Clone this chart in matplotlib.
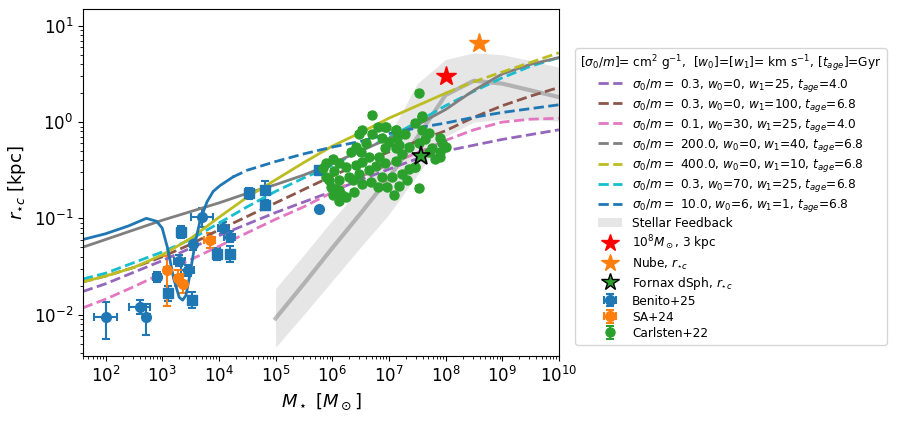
import numpy as np
import matplotlib
matplotlib.use("Agg")
import matplotlib.pyplot as plt
from matplotlib.lines import Line2D
from matplotlib.patches import Patch

# model curves, log10(M*) vs log10(r*c)
logM_grid = [1.6, 2.0, 2.5, 3.0, 3.5, 4.0, 4.5, 5.0, 5.5, 6.0, 6.5, 7.0, 7.5, 8.0, 8.5, 9.0, 9.5, 10.0]
purple_r = [-1.76, -1.68, -1.56, -1.44, -1.31, -1.18, -1.06, -0.94, -0.83, -0.72, -0.60, -0.49, -0.38, -0.30, -0.24, -0.18, -0.13, -0.08]
brown_r = [-1.66, -1.60, -1.51, -1.40, -1.27, -1.12, -0.98, -0.84, -0.70, -0.56, -0.43, -0.31, -0.20, -0.09, 0.05, 0.17, 0.27, 0.36]
pink_r = [-1.93, -1.84, -1.71, -1.57, -1.43, -1.29, -1.15, -1.01, -0.88, -0.73, -0.57, -0.44, -0.32, -0.19, -0.08, 0.0, 0.03, 0.04]
gray_r = [-1.30, -1.22, -1.12, -1.02, -0.93, -0.84, -0.74, -0.65, -0.55, -0.43, -0.30, -0.17, -0.03, 0.13, 0.33, 0.50, 0.60, 0.67]
olive_r = [-1.66, -1.60, -1.51, -1.38, -1.21, -0.99, -0.78, -0.60, -0.42, -0.25, -0.11, 0.04, 0.17, 0.30, 0.42, 0.52, 0.62, 0.72]
cyan_r = [-1.63, -1.57, -1.46, -1.35, -1.22, -1.05, -0.88, -0.72, -0.58, -0.45, -0.30, -0.16, 0.0, 0.17, 0.32, 0.46, 0.58, 0.67]

blue_logM = [1.6, 2.0, 2.4, 2.72, 2.9, 3.0, 3.1, 3.2, 3.3, 3.36, 3.42, 3.5, 3.58, 3.67, 3.79, 3.9, 4.02, 4.25,
             4.5, 5.0, 5.5, 6.0, 6.5, 7.0, 7.5, 8.0, 8.5, 9.0, 9.5, 10.0]
blue_r = [-1.22, -1.16, -1.08, -1.0, -1.03, -1.10, -1.32, -1.62, -1.82, -1.85, -1.80, -1.55, -1.26, -1.02, -0.83,
          -0.72, -0.66, -0.57, -0.50, -0.41, -0.33, -0.26, -0.20, -0.12, -0.06, -0.01, 0.05, 0.10, 0.14, 0.18]

labels = [
    r"$\sigma_0/m =$ 0.3, $w_0$=0, $w_1$=25, $t_{age}$=4.0",
    r"$\sigma_0/m =$ 0.3, $w_0$=0, $w_1$=100, $t_{age}$=6.8",
    r"$\sigma_0/m =$ 0.1, $w_0$=30, $w_1$=25, $t_{age}$=4.0",
    r"$\sigma_0/m =$ 200.0, $w_0$=0, $w_1$=40, $t_{age}$=6.8",
    r"$\sigma_0/m =$ 400.0, $w_0$=0, $w_1$=10, $t_{age}$=6.8",
    r"$\sigma_0/m =$ 0.3, $w_0$=70, $w_1$=25, $t_{age}$=6.8",
    r"$\sigma_0/m =$ 10.0, $w_0$=6, $w_1$=1, $t_{age}$=6.8",
]
colors = ["tab:purple", "tab:brown", "tab:pink", "tab:gray", "tab:olive", "tab:cyan", "tab:blue"]

# stellar feedback band
fb_logM = [5.0, 5.5, 6.0, 6.5, 7.0, 7.5, 8.0, 8.5, 9.0, 9.5, 10.0]
fb_mid = [-2.04, -1.68, -1.31, -0.95, -0.58, -0.16, 0.28, 0.43, 0.40, 0.33, 0.26]
fb_hi = [-1.73, -1.38, -1.02, -0.68, -0.15, 0.40, 0.65, 0.72, 0.70, 0.64, 0.57]
fb_lo = [-2.34, -2.00, -1.65, -1.30, -0.96, -0.55, -0.15, 0.0, 0.03, 0.03, 0.01]

# Benito+25 (log M, log r, xerr dex, yerr up, yerr down)
ben_c_logM = [2.0, 2.60, 2.72, 2.91, 3.30, 3.45, 3.54, 3.70, 4.08, 4.19, 5.77]
ben_c_logr = [-2.03, -1.92, -2.02, -1.61, -1.44, -1.54, -1.27, -0.99, -1.10, -1.19, -0.90]
ben_c_xe = [0.20, 0.18, 0.06, 0.07, 0.10, 0.12, 0.05, 0.20, 0.10, 0.10, 0.0]
ben_c_yu = [0.16, 0.07, 0.13, 0.05, 0.06, 0.06, 0.06, 0.10, 0.06, 0.06, 0.0]
ben_c_yd = [0.22, 0.07, 0.19, 0.05, 0.06, 0.06, 0.06, 0.10, 0.06, 0.06, 0.0]
ben_s_logM = [3.11, 3.34, 3.52, 3.96, 4.20, 4.54, 4.81, 4.81, 5.77]
ben_s_logr = [-1.78, -1.14, -1.85, -1.37, -1.37, -0.74, -0.71, -0.86, -0.50]
ben_s_xe = [0.05, 0.05, 0.05, 0.05, 0.05, 0.05, 0.05, 0.05, 0.0]
ben_s_ye = [0.08, 0.06, 0.08, 0.06, 0.08, 0.06, 0.10, 0.05, 0.0]

# SA+24
sa_logM = [3.08, 3.28, 3.36, 3.84]
sa_logr = [-1.54, -1.62, -1.68, -1.23]
sa_xe = [0.05, 0.05, 0.05, 0.10]
sa_yu = [0.15, 0.08, 0.10, 0.08]
sa_yd = [0.37, 0.08, 0.10, 0.08]

# Carlsten+22
carl_logM = [6.71, 7.53, 6.53, 6.71, 6.94, 7.12, 6.88, 7.00, 7.18, 6.59, 6.42, 6.50, 6.33, 6.01, 6.12, 6.24,
             6.04, 5.89, 6.12, 6.30, 6.47, 6.65, 6.77, 6.94, 7.12, 7.23, 7.35, 7.53, 7.64, 7.76, 7.59, 7.47,
             7.59, 7.70, 7.82, 7.91, 7.47, 7.53, 7.09, 6.97, 6.80, 6.68, 6.88, 7.06, 7.23, 7.35, 6.12, 6.24,
             6.12, 6.01, 5.98, 6.39, 6.94, 6.83, 7.29, 7.15, 7.12, 6.65, 6.53, 6.42, 6.47, 6.80, 6.36, 6.53,
             7.18, 7.32, 5.89, 5.83, 6.95, 7.12, 7.58, 7.70, 7.93, 8.00, 7.91, 7.47, 5.95, 6.07, 6.18, 7.91]
carl_logr = [0.07, 0.30, -0.08, -0.12, -0.05, -0.08, -0.17, -0.21, -0.24, -0.22, -0.26, -0.31, -0.31, -0.38, -0.43, -0.47,
             -0.51, -0.57, -0.60, -0.57, -0.54, -0.50, -0.46, -0.43, -0.40, -0.33, -0.26, -0.22, -0.18, -0.27, -0.08, -0.01,
             0.06, -0.31, -0.38, -0.31, -0.47, -0.68, -0.76, -0.67, -0.67, -0.62, -0.57, -0.57, -0.54, -0.49, -0.71, -0.78,
             -0.82, -0.76, -0.67, -0.73, -0.27, -0.36, -0.12, -0.17, -0.27, -0.36, -0.41, -0.45, -0.12, -0.05, -0.60, -0.64,
             -0.66, -0.60, -0.43, -0.48, -0.05, -0.08, 0.05, -0.11, -0.22, -0.26, -0.36, -0.47, -0.60, -0.70, -0.76, -0.16]

# stars
ref_M, ref_r = 1e8, 3.0
nube_M, nube_r = 3.9e8, 6.6
fornax_M, fornax_r = 3.7e7, 0.44


def asym(logv, lo, hi):
    logv = np.array(logv)
    return [10**logv - 10**(logv - np.array(lo)), 10**(logv + np.array(hi)) - 10**logv]


fig, ax = plt.subplots(figsize=(8.97, 4.24), dpi=100)
fig.subplots_adjust(left=0.0925, right=0.623, bottom=0.160, top=0.979)

fbM = 10**np.array(fb_logM)
ax.fill_between(fbM, 10**np.array(fb_lo), 10**np.array(fb_hi), color="lightgray", alpha=0.55, lw=0)
ax.plot(fbM, 10**np.array(fb_mid), color="gray", alpha=0.5, lw=3)

eb_kw = dict(ls="none", capsize=3, elinewidth=1.5, capthick=1.5)
ax.errorbar(10**np.array(ben_c_logM), 10**np.array(ben_c_logr),
            xerr=asym(ben_c_logM, ben_c_xe, ben_c_xe), yerr=asym(ben_c_logr, ben_c_yd, ben_c_yu),
            fmt="o", color="tab:blue", ms=7, **eb_kw)
ax.errorbar(10**np.array(ben_s_logM), 10**np.array(ben_s_logr),
            xerr=asym(ben_s_logM, ben_s_xe, ben_s_xe), yerr=asym(ben_s_logr, ben_s_ye, ben_s_ye),
            fmt="s", color="tab:blue", ms=7, **eb_kw)
ax.errorbar(10**np.array(sa_logM), 10**np.array(sa_logr),
            xerr=asym(sa_logM, sa_xe, sa_xe), yerr=asym(sa_logr, sa_yd, sa_yu),
            fmt="o", color="tab:orange", ms=7, **eb_kw)
ax.errorbar(10**np.array(carl_logM), 10**np.array(carl_logr),
            yerr=asym(carl_logr, [0.02] * len(carl_logr), [0.02] * len(carl_logr)),
            fmt="o", color="tab:green", ms=6.5, **eb_kw)

M = 10**np.array(logM_grid)
for r, c in zip([purple_r, brown_r, pink_r, cyan_r], ["tab:purple", "tab:brown", "tab:pink", "tab:cyan"]):
    ax.plot(M, 10**np.array(r), "--", color=c, lw=2)
ax.plot(M, 10**np.array(gray_r), "-", color="tab:gray", lw=2)
k = logM_grid.index(8.0)
ax.plot(M[:k + 1], 10**np.array(olive_r[:k + 1]), "-", color="tab:olive", lw=2)
ax.plot(M[k:], 10**np.array(olive_r[k:]), "--", color="tab:olive", lw=2)
bM = 10**np.array(blue_logM)
kb = blue_logM.index(4.25)
ax.plot(bM[:kb + 1], 10**np.array(blue_r[:kb + 1]), "-", color="tab:blue", lw=2)
ax.plot(bM[kb:], 10**np.array(blue_r[kb:]), "--", color="tab:blue", lw=2)

ax.plot(ref_M, ref_r, "*", color="red", ms=15, zorder=5)
ax.plot(nube_M, nube_r, "*", color="tab:orange", ms=15, zorder=5)
ax.plot(fornax_M, fornax_r, "*", mfc="tab:green", mec="black", mew=1.2, ms=14, zorder=5)

ax.set_xscale("log")
ax.set_yscale("log")
ax.set_xlim(40, 1e10)
ax.set_ylim(3.7e-3, 15)
ax.set_xlabel(r"$M_\star$ [$M_\odot$]", fontsize=13)
ax.set_ylabel(r"$r_{\star c}$ [kpc]", fontsize=13)
ax.tick_params(labelsize=12)

# legend
handles = [Line2D([], [], ls="--", color=c, lw=2) for c in colors]
handles.append(Patch(color="lightgray", alpha=0.55, lw=0))
handles.append(Line2D([], [], ls="none", marker="*", color="red", ms=13))
handles.append(Line2D([], [], ls="none", marker="*", color="tab:orange", ms=13))
handles.append(Line2D([], [], ls="none", marker="*", mfc="tab:green", mec="black", ms=13))
conts = ax.containers
handles += [conts[0], conts[2], conts[3]]
leg_labels = labels + ["Stellar Feedback", r"$10^8 M_\odot$, 3 kpc", r"Nube, $r_{\star c}$",
                       r"Fornax dSph, $r_{\star c}$", "Benito+25", "SA+24", "Carlsten+22"]
ax.legend(handles, leg_labels, loc="center left", bbox_to_anchor=(1.035, 0.46), borderaxespad=0,
          fontsize=8.7, title_fontsize=8.7, labelspacing=0.25,
          title=r"$[\sigma_0/m]$= cm$^2$ g$^{-1}$,  $[w_0]$=$[w_1]$= km s$^{-1}$, $[t_{age}]$=Gyr")

fig.savefig("out.png", dpi=100)
